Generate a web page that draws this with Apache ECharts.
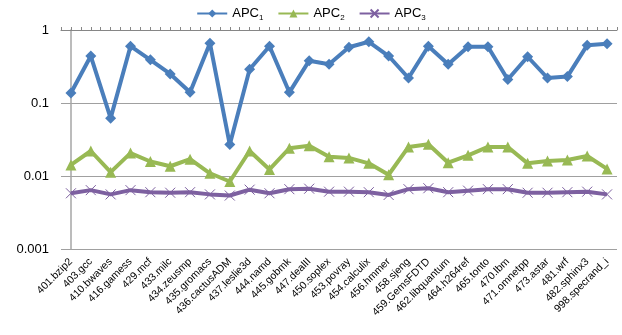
<!DOCTYPE html>
<html>
<head>
<meta charset="utf-8">
<script src="https://cdn.jsdelivr.net/npm/echarts@6/dist/echarts.min.js"></script>
<style>
  html, body { margin: 0; padding: 0; background: #fff; }
  #chart { width: 622px; height: 335px; }
</style>
</head>
<body>
<div id="chart"></div>
<script>
// SPEC CPU2006 benchmarks
const categories = [
  '401.bzip2', '403.gcc', '410.bwaves', '416.gamess', '429.mcf', '433.milc',
  '434.zeusmp', '435.gromacs', '436.cactusADM', '437.leslie3d', '444.namd',
  '445.gobmk', '447.dealII', '450.soplex', '453.povray', '454.calculix',
  '456.hmmer', '458.sjeng', '459.GemsFDTD', '462.libquantum', '464.h264ref',
  '465.tonto', '470.lbm', '471.omnetpp', '473.astar', '481.wrf',
  '482.sphinx3', '998.specrand_i'
];

const apc1 = [
  0.137, 0.44, 0.062, 0.60, 0.39, 0.25, 0.14, 0.66, 0.027, 0.29, 0.60,
  0.14, 0.38, 0.34, 0.58, 0.69, 0.44, 0.22, 0.60, 0.34, 0.59,
  0.59, 0.21, 0.43, 0.22, 0.23, 0.62, 0.65
];

const apc2 = [
  0.0142, 0.022, 0.0113, 0.0206, 0.0158, 0.0136, 0.017, 0.0109, 0.0084, 0.022, 0.0123,
  0.024, 0.026, 0.0184, 0.0177, 0.0149, 0.0104, 0.025, 0.0272, 0.0152, 0.0192,
  0.025, 0.025, 0.0149, 0.016, 0.0166, 0.0188, 0.0125
];

const apc3 = [
  0.0058, 0.0064, 0.0056, 0.0064, 0.006, 0.0059, 0.006, 0.0056, 0.0054, 0.0065, 0.0058,
  0.0066, 0.0067, 0.0061, 0.0061, 0.006, 0.0055, 0.0066, 0.0068, 0.006, 0.0063,
  0.0066, 0.0066, 0.0059, 0.0059, 0.006, 0.0061, 0.0056
];

const seriesNames = ['APC1', 'APC2', 'APC3'];
const yTickValues = [0.001, 0.01, 0.1, 1];

const FONT = 'Liberation Sans, Arial, sans-serif';
const crossPath = 'path://M0,0L10,10M10,0L0,10';

const chart = echarts.init(document.getElementById('chart'), null, { renderer: 'canvas' });

chart.setOption({
  animation: false,
  backgroundColor: '#ffffff',
  textStyle: { fontFamily: FONT },
  legend: {
    top: 2,
    left: 'center',
    itemWidth: 30,
    itemHeight: 10,
    itemGap: 14,
    data: seriesNames,
    formatter: function (name) {
      return '{a|' + name.slice(0, 3) + '}{s|' + name.slice(3) + '}';
    },
    textStyle: {
      fontFamily: FONT,
      rich: {
        a: { fontSize: 13, color: '#000', fontFamily: FONT },
        s: { fontSize: 8, color: '#000', fontFamily: FONT, padding: [8, 0, 0, 0] }
      }
    }
  },
  grid: { left: 61, right: 5, top: 30, bottom: 86, containLabel: false },
  xAxis: [
    {
      type: 'category',
      data: categories,
      position: 'bottom',
      boundaryGap: true,
      axisLine: { show: false },
      axisTick: { show: false },
      axisLabel: {
        rotate: 45,
        interval: 0,
        margin: 11,
        fontSize: 10.5,
        color: '#000',
        fontFamily: FONT
      },
      splitLine: { show: false }
    },
    {
      // tick marks along the top edge, at category centres and boundaries
      type: 'value',
      position: 'top',
      min: -0.5,
      max: categories.length - 0.5,
      interval: 0.5,
      axisLine: { show: true, lineStyle: { color: '#868686', width: 1 } },
      axisTick: { show: true, inside: false, length: 3, lineStyle: { color: '#868686' } },
      axisLabel: { show: false },
      splitLine: { show: false }
    }
  ],
  yAxis: {
    type: 'log',
    logBase: 10,
    min: yTickValues[0],
    max: yTickValues[yTickValues.length - 1],
    axisLine: { show: true, lineStyle: { color: '#a6a6a6', width: 1.5 } },
    axisTick: { show: false },
    axisLabel: {
      fontSize: 13,
      color: '#000',
      margin: 12,
      fontFamily: FONT,
      formatter: function (v) {
        return String(Number(v.toPrecision(3)));
      }
    },
    splitLine: { show: true, lineStyle: { color: '#a0a0a0', width: 1 } }
  },
  series: [
    {
      name: seriesNames[0],
      type: 'line',
      data: apc1,
      symbol: 'diamond',
      symbolSize: 11,
      lineStyle: { color: '#4a7ebb', width: 4 },
      itemStyle: { color: '#4a7ebb' },
      z: 4
    },
    {
      name: seriesNames[1],
      type: 'line',
      data: apc2,
      symbol: 'triangle',
      symbolSize: 11,
      lineStyle: { color: '#98b954', width: 4 },
      itemStyle: { color: '#98b954' },
      z: 3
    },
    {
      name: seriesNames[2],
      type: 'line',
      data: apc3,
      symbol: crossPath,
      symbolSize: 10,
      lineStyle: { color: '#7d60a0', width: 4 },
      itemStyle: { color: '#7d60a0', borderColor: '#7d60a0', borderWidth: 1 },
      z: 2
    }
  ]
});
</script>
</body>
</html>
